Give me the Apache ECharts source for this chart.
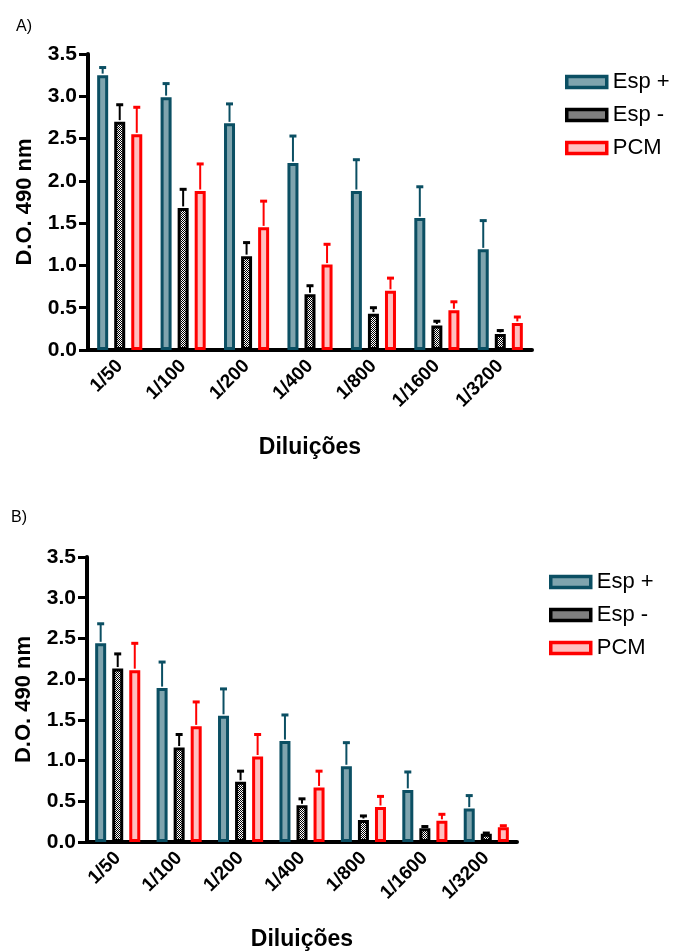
<!DOCTYPE html>
<html>
<head>
<meta charset="utf-8">
<script src="https://cdn.jsdelivr.net/npm/echarts@6/dist/echarts.min.js"></script>
<style>
  html, body { margin: 0; padding: 0; background: #ffffff; }
  #chart { width: 675px; height: 952px; }
</style>
</head>
<body>
<div id="chart"></div>
<script>
// Dilution series (categories shared by both panels)
const categories = ['1/50', '1/100', '1/200', '1/400', '1/800', '1/1600', '1/3200'];
const seriesNames = ['Esp +', 'Esp -', 'PCM'];
const yTicks = [0, 0.5, 1.0, 1.5, 2.0, 2.5, 3.0, 3.5];

// Panel A: mean O.D. 490 nm and upper error
const aEspPos    = [3.25, 2.99, 2.68, 2.21, 1.88, 1.56, 1.19];
const aEspPosErr = [0.09, 0.16, 0.23, 0.32, 0.37, 0.37, 0.34];
const aEspNeg    = [2.70, 1.68, 1.11, 0.66, 0.43, 0.29, 0.19];
const aEspNegErr = [0.20, 0.22, 0.16, 0.10, 0.07, 0.05, 0.04];
const aPcm       = [2.55, 1.88, 1.45, 1.01, 0.70, 0.47, 0.32];
const aPcmErr    = [0.32, 0.32, 0.31, 0.24, 0.15, 0.10, 0.07];

// Panel B
const bEspPos    = [2.44, 1.89, 1.55, 1.24, 0.93, 0.64, 0.41];
const bEspPosErr = [0.24, 0.32, 0.33, 0.32, 0.29, 0.22, 0.16];
const bEspNeg    = [2.13, 1.16, 0.74, 0.45, 0.27, 0.17, 0.10];
const bEspNegErr = [0.18, 0.16, 0.13, 0.08, 0.05, 0.02, 0.01];
const bPcm       = [2.11, 1.42, 1.05, 0.67, 0.43, 0.26, 0.18];
const bPcmErr    = [0.33, 0.30, 0.27, 0.20, 0.13, 0.08, 0.02];

const FONT = '"Liberation Sans", Arial, sans-serif';
const BAR_W = 11;
const BAR_GAP = 0.55;

// Fine black/white checker used for the "Esp -" fill
function checker() {
  const c = document.createElement('canvas');
  c.width = 2; c.height = 2;
  const g = c.getContext('2d');
  g.fillStyle = '#ffffff'; g.fillRect(0, 0, 2, 2);
  g.fillStyle = '#000000'; g.fillRect(0, 0, 1, 1); g.fillRect(1, 1, 1, 1);
  return c;
}

const styles = [
  { fill: '#7fa4ae', border: '#0b4f63' },
  { fill: { image: checker(), repeat: 'repeat' }, border: '#000000' },
  { fill: '#ffbfbf', border: '#ff0000' }
];

function barSeries(name, idx, values, axisIndex) {
  return {
    type: 'bar', name: name,
    xAxisIndex: axisIndex, yAxisIndex: axisIndex,
    data: values,
    barWidth: BAR_W, barGap: (BAR_GAP * 100) + '%',
    itemStyle: { color: styles[idx].fill, borderColor: styles[idx].border, borderWidth: 3 },
    z: 2
  };
}

function errSeries(name, idx, values, errs, axisIndex) {
  const offset = (idx - 1) * BAR_W * (1 + BAR_GAP);
  const color = styles[idx].border;
  return {
    type: 'custom', name: name + ' SD',
    xAxisIndex: axisIndex, yAxisIndex: axisIndex,
    data: values.map((v, i) => [i, v, v + errs[i]]),
    z: 3,
    renderItem: function (params, api) {
      const base = api.coord([api.value(0), api.value(1)]);
      const top = api.coord([api.value(0), api.value(2)]);
      const x = base[0] + offset;
      return {
        type: 'group',
        children: [
          { type: 'line', shape: { x1: x, y1: base[1] - 1.5, x2: x, y2: top[1] },
            style: { stroke: color, lineWidth: 2 } },
          { type: 'line', shape: { x1: x - 3.5, y1: top[1], x2: x + 3.5, y2: top[1] },
            style: { stroke: color, lineWidth: 3 } }
        ]
      };
    }
  };
}

function xAxisFor(gridIndex) {
  return {
    type: 'category', gridIndex: gridIndex, data: categories,
    name: 'Diluições', nameLocation: 'middle', nameGap: 86,
    nameTextStyle: { fontFamily: FONT, fontWeight: 'bold', fontSize: 23, color: '#000' },
    axisLine: { lineStyle: { color: '#000', width: 4 } },
    axisTick: { alignWithLabel: true, length: 8, lineStyle: { color: '#000', width: 3 } },
    axisLabel: { rotate: 45, margin: 13, fontFamily: FONT, fontWeight: 'bold', fontSize: 19, color: '#000' },
    splitLine: { show: false }
  };
}

function yAxisFor(gridIndex) {
  return {
    type: 'value', gridIndex: gridIndex, min: 0, max: 3.5, interval: 0.5,
    name: 'D.O. 490 nm', nameLocation: 'middle', nameRotate: 90, nameGap: 52,
    nameTextStyle: { fontFamily: FONT, fontWeight: 'bold', fontSize: 22, color: '#000' },
    axisLine: { show: true, lineStyle: { color: '#000', width: 4 } },
    axisTick: { show: true, length: 9, lineStyle: { color: '#000', width: 3 } },
    axisLabel: { margin: 11, fontFamily: FONT, fontWeight: 'bold', fontSize: 21, color: '#000',
      formatter: v => yTicks.includes(v) ? v.toFixed(1) : '' },
    splitLine: { show: false }
  };
}

function legendFor(left, top) {
  return {
    data: seriesNames, orient: 'vertical', left: left, top: top,
    icon: 'rect', itemWidth: 40, itemHeight: 11, itemGap: 11,
    selectedMode: false,
    itemStyle: { borderWidth: 3.5 },
    textStyle: { fontFamily: FONT, fontSize: 22, color: '#000', padding: [0, 0, 0, 1] }
  };
}

const chart = echarts.init(document.getElementById('chart'), null, { renderer: 'canvas' });
chart.setOption({
  backgroundColor: '#ffffff',
  animation: false,
  title: [
    { text: 'A)', left: 11, top: 14, textStyle: { fontFamily: FONT, fontWeight: 'normal', fontSize: 16, color: '#000' } },
    { text: 'B)', left: 6, top: 505, textStyle: { fontFamily: FONT, fontWeight: 'normal', fontSize: 16, color: '#000' } }
  ],
  legend: [legendFor(560, 66), legendFor(544, 566)],
  grid: [
    { left: 88, top: 54, width: 444, height: 296 },
    { left: 87, top: 557, width: 430, height: 286 }
  ],
  xAxis: [xAxisFor(0), xAxisFor(1)],
  yAxis: [yAxisFor(0), yAxisFor(1)],
  series: [
    barSeries(seriesNames[0], 0, aEspPos, 0),
    barSeries(seriesNames[1], 1, aEspNeg, 0),
    barSeries(seriesNames[2], 2, aPcm, 0),
    errSeries(seriesNames[0], 0, aEspPos, aEspPosErr, 0),
    errSeries(seriesNames[1], 1, aEspNeg, aEspNegErr, 0),
    errSeries(seriesNames[2], 2, aPcm, aPcmErr, 0),
    barSeries(seriesNames[0], 0, bEspPos, 1),
    barSeries(seriesNames[1], 1, bEspNeg, 1),
    barSeries(seriesNames[2], 2, bPcm, 1),
    errSeries(seriesNames[0], 0, bEspPos, bEspPosErr, 1),
    errSeries(seriesNames[1], 1, bEspNeg, bEspNegErr, 1),
    errSeries(seriesNames[2], 2, bPcm, bPcmErr, 1)
  ]
});
</script>
</body>
</html>
